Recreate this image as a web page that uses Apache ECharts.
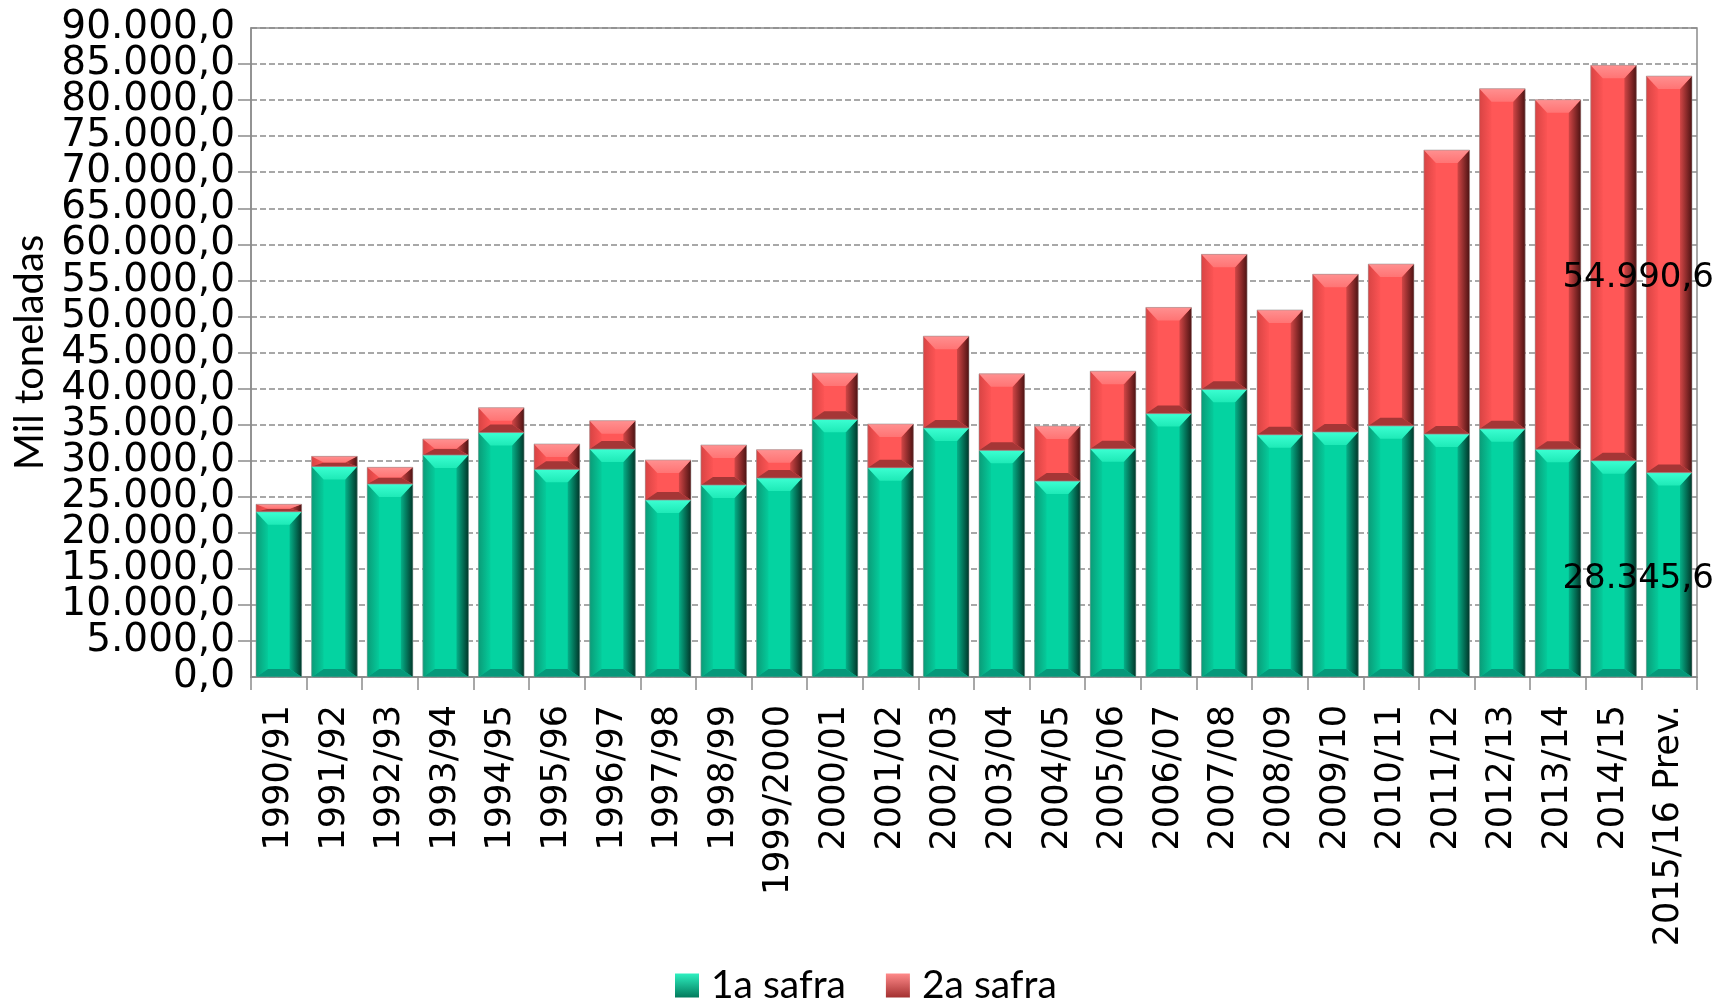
<!DOCTYPE html>
<html>
<head>
<meta charset="utf-8">
<script src="https://cdn.jsdelivr.net/npm/echarts@6/dist/echarts.min.js"></script>
<style>
  html, body { margin: 0; padding: 0; background: #fff; }
  #chart { width: 1717px; height: 1002px; }
</style>
</head>
<body>
<div id="chart"></div>
<script>
// safras (x categories)
const safras = [
  "1990/91", "1991/92", "1992/93", "1993/94", "1994/95", "1995/96", "1996/97",
  "1997/98", "1998/99", "1999/2000", "2000/01", "2001/02", "2002/03", "2003/04",
  "2004/05", "2005/06", "2006/07", "2007/08", "2008/09", "2009/10", "2010/11",
  "2011/12", "2012/13", "2013/14", "2014/15", "2015/16 Prev."
];

// mil toneladas
const primeiraSafra = [
  22930, 29200, 26770, 30790, 33900, 28800, 31620, 24550, 26630, 27600,
  35740, 29030, 34540, 31430, 27170, 31660, 36530, 39910, 33600, 33980,
  34830, 33690, 34430, 31590, 30000, 28345.6
];
const segundaSafra = [
  1020, 1400, 2310, 2220, 3450, 3520, 3930, 5550, 5550, 3930,
  6430, 6060, 12730, 10610, 7640, 10750, 14720, 18700, 17300, 21870,
  22440, 39380, 47160, 48470, 54830, 54990.6
];

// only the forecast bar carries value labels
const rotuladas = ["2015/16 Prev."];

const yMin = 0;
const yMax = 90000;
const yStep = 5000;

function fmtBR(v, dec) {
  const parts = v.toFixed(dec).split(".");
  const inteiro = parts[0].replace(/\B(?=(\d{3})+(?!\d))/g, ".");
  return parts[1] ? inteiro + "," + parts[1] : inteiro;
}

const verde = {
  main: "#04D3A1", top: ["#3CFFD2", "#1EEAB7"], left: ["#0A9C78", "#05CB9B"],
  right: ["#05B088", "#01372A"], bottom: "#06987A"
};
const vermelho = {
  main: "#FF5757", top: ["#FF9090", "#FF7474"], left: ["#D84444", "#FC5454"],
  right: ["#D24646", "#4E1313"], bottom: "#A53636"
};

function grad(x2, y2, c) {
  return new echarts.graphic.LinearGradient(0, 0, x2, y2, [
    { offset: 0, color: c[0] }, { offset: 1, color: c[1] }
  ]);
}

function bevelBar(pal) {
  return function (params, api) {
    const idx = api.value(0);
    const base = api.coord([idx, api.value(1)]);
    const topP = api.coord([idx, api.value(2)]);
    const w = api.size([1, 0])[0] * 0.82;
    const x = base[0] - w / 2;
    const y = topP[1];
    const h = base[1] - topP[1];
    let bt = 13, bb = 8;
    if (bt + bb > h) { const k = h / (bt + bb); bt *= k; bb *= k; }
    const bs = 12;
    const TL = [x, y], TR = [x + w, y], BR = [x + w, y + h], BL = [x, y + h];
    const iTL = [x + bs, y + bt], iTR = [x + w - bs, y + bt];
    const iBR = [x + w - bs, y + h - bb], iBL = [x + bs, y + h - bb];
    const children = [
      { type: "rect", shape: { x: x, y: y, width: w, height: h }, style: { fill: pal.main } },
      { type: "polygon", shape: { points: [TL, BL, iBL, iTL] }, style: { fill: grad(1, 0, pal.left) } },
      { type: "polygon", shape: { points: [TR, BR, iBR, iTR] }, style: { fill: grad(1, 0, pal.right) } },
      { type: "polygon", shape: { points: [BL, BR, iBR, iBL] }, style: { fill: pal.bottom } },
      { type: "polygon", shape: { points: [TL, TR, iTR, iTL] }, style: { fill: grad(0, 1, pal.top) } },
      { type: "rect", shape: { x: x, y: y, width: w, height: h },
        style: { fill: null, stroke: "rgba(150,150,150,0.55)", lineWidth: 1 } }
    ];
    if (rotuladas.indexOf(safras[idx]) >= 0) {
      children.push({
        type: "text", z2: 20,
        style: {
          text: fmtBR(api.value(3), 1), x: base[0] - 31, y: y + h / 2 + 4,
          align: "center", verticalAlign: "middle",
          font: '34px "DejaVu Sans"', fill: "#000"
        }
      });
    }
    return { type: "group", children: children };
  };
}

const dados1 = safras.map((s, i) => [i, 0, primeiraSafra[i], primeiraSafra[i]]);
const dados2 = safras.map((s, i) => [i, primeiraSafra[i], primeiraSafra[i] + segundaSafra[i], segundaSafra[i]]);

const yLabelStyle = { fontFamily: "DejaVu Sans", fontSize: 39, color: "#000" };

const chart = echarts.init(document.getElementById("chart"));

chart.setOption({
  animation: false,
  backgroundColor: "#fff",
  grid: {
    left: 251, right: 20, top: 28, bottom: 325,
    show: true, borderColor: "#8c8c8c", borderWidth: 1.5
  },
  legend: {
    top: 961, left: 670,
    itemWidth: 24, itemHeight: 24, itemGap: 40, icon: "rect",
    textStyle: { fontFamily: "Lato", fontSize: 39, color: "#000", padding: [0, 0, 0, 7] },
    data: [
      { name: "1a safra", itemStyle: { color: grad(0, 1, ["#2EF0C0", "#027A5C"]) } },
      { name: "2a safra", itemStyle: { color: grad(0, 1, ["#FF8A8A", "#A33030"]) } }
    ]
  },
  xAxis: {
    type: "category",
    data: safras,
    axisLine: { lineStyle: { color: "#8c8c8c", width: 1.5 } },
    axisTick: { show: true, length: 13, lineStyle: { color: "#8c8c8c", width: 1.5 } },
    axisLabel: {
      rotate: 90, interval: 0, margin: 28,
      fontFamily: "DejaVu Sans", fontSize: 35, color: "#000"
    }
  },
  yAxis: [
    {
      type: "value",
      min: yMin, max: yMax, interval: yStep,
      name: "Mil toneladas",
      nameLocation: "middle",
      nameGap: 199,
      nameTextStyle: { fontFamily: "Lato", fontSize: 40, color: "#000" },
      axisLine: { show: true, lineStyle: { color: "#8c8c8c", width: 1.5 } },
      axisTick: { show: true, length: 13, lineStyle: { color: "#8c8c8c", width: 1.5 } },
      splitLine: { lineStyle: { color: "#8c8c8c", width: 1.5, type: [6, 3] } },
      axisLabel: Object.assign({
        margin: 16, showMinLabel: false, showMaxLabel: false,
        formatter: (v) => fmtBR(v, 1)
      }, yLabelStyle)
    },
    {
      // only the end labels (0,0 and 90.000,0), which the first axis drops when they crowd
      type: "value", position: "left",
      min: yMin, max: yMax, interval: yStep,
      axisLine: { show: false }, axisTick: { show: false }, splitLine: { show: false },
      axisLabel: Object.assign({
        margin: 16,
        formatter: (v) => (v === yMin || v === yMax ? fmtBR(v, 1) : "")
      }, yLabelStyle)
    }
  ],
  series: [
    {
      name: "1a safra", type: "custom", renderItem: bevelBar(verde),
      encode: { x: 0, y: [1, 2] }, data: dados1,
      itemStyle: { color: verde.main }
    },
    {
      name: "2a safra", type: "custom", renderItem: bevelBar(vermelho),
      encode: { x: 0, y: [1, 2] }, data: dados2,
      itemStyle: { color: vermelho.main }
    }
  ]
});
</script>
</body>
</html>
